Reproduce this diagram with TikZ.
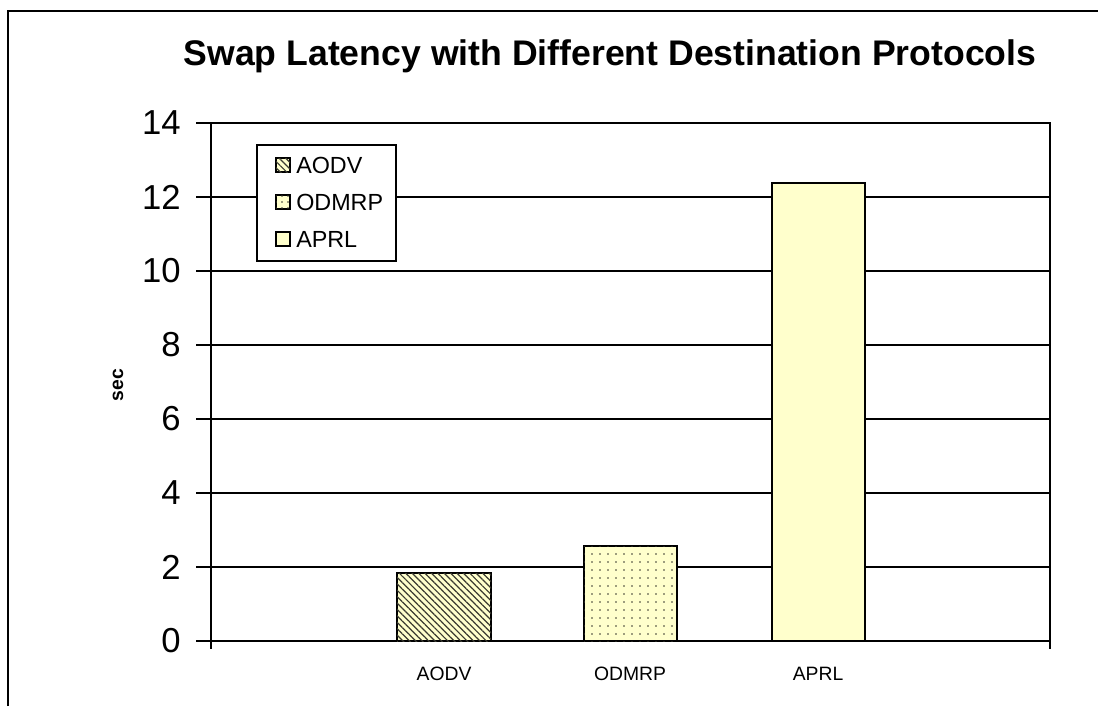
\documentclass[tikz,border=0pt]{standalone}
\usepackage{fontspec}
\setmainfont{Liberation Sans}
\usetikzlibrary{patterns.meta}

\definecolor{barfill}{HTML}{FFFFCC}
\definecolor{hatchink}{HTML}{3A3A30}

\tikzset{
  frameline/.style={line width=1.5pt, black},
  axisline/.style={line width=1.6pt, black},
  gridline/.style={line width=1.1pt, black},
  bar/.style={draw=black, line width=1.1pt, fill=barfill},
  hatchbar/.style={bar, postaction={pattern={Lines[angle=-45, distance=3.4pt, line width=0.9pt]}, pattern color=hatchink}},
  dotbar/.style={bar, postaction={pattern={Dots[distance=6pt, radius=0.7pt]}, pattern color=hatchink}},
  ylab/.style={anchor=east, font=\fontsize{26}{26}\selectfont, inner sep=0pt},
  xlab/.style={anchor=base, font=\fontsize{14.5}{14.5}\selectfont, inner sep=0pt},
  legtext/.style={anchor=west, font=\fontsize{17.5}{17.5}\selectfont, inner sep=0pt},
  swatch/.style={draw=black, line width=0.8pt, fill=barfill, minimum size=10.5pt, inner sep=0pt}
}

\begin{document}
\begin{tikzpicture}[x=0.75pt, y=-0.75pt]
\useasboundingbox (0,0) rectangle (1098,706);

% outer chart frame (only its left and top edges fall on the page)
\draw[frameline] (8,706) -- (8,11) -- (1098,11);

% title
\node[font=\bfseries\fontsize{26.7}{26.7}\selectfont, inner sep=0pt] (title) at (610,56) {Swap Latency with Different Destination Protocols};

% horizontal grid lines, value v sits at y = 641 - 37 v
\foreach \v in {2,4,...,12} {
  \draw[gridline] (211,{641-37*\v}) -- (1050,{641-37*\v});
}
% plot area border
\draw[axisline] (211,123) rectangle (1050,641);

% y ticks and labels
\foreach \v in {0,2,...,14} {
  \draw[axisline] (196,{641-37*\v}) -- (211,{641-37*\v});
  \node[ylab] (y\v) at (181,{641-37*\v}) {\v};
}
% x ticks at both ends of the category axis
\draw[axisline] (211,641) -- (211,649);
\draw[axisline] (1050,641) -- (1050,649);

% axis title
\node[rotate=90, font=\bfseries\fontsize{14.5}{14.5}\selectfont, inner sep=0pt] (ytitle) at (118,385) {sec};

% bars
\path[hatchbar] (397,573) rectangle (491,641);
\path[dotbar] (584,546) rectangle (677,641);
\path[bar] (772,183) rectangle (865,641);

% category labels
\node[xlab] (cA) at (444,680) {AODV};
\node[xlab] (cO) at (630,680) {ODMRP};
\node[xlab] (cP) at (818,680) {APRL};

% legend
\draw[line width=1.1pt, fill=white] (257,145) rectangle (396,261);
\node[swatch, postaction={pattern={Lines[angle=-45, distance=3.4pt, line width=0.9pt]}, pattern color=hatchink}] (s1) at (283,165) {};
\node[swatch, postaction={pattern={Dots[distance=4.5pt, radius=0.7pt]}, pattern color=hatchink}] (s2) at (283,202) {};
\node[swatch] (s3) at (283,239) {};
\node[legtext] (l1) at (296,165) {AODV};
\node[legtext] (l2) at (296,202) {ODMRP};
\node[legtext] (l3) at (296,239) {APRL};
\end{tikzpicture}
\end{document}
